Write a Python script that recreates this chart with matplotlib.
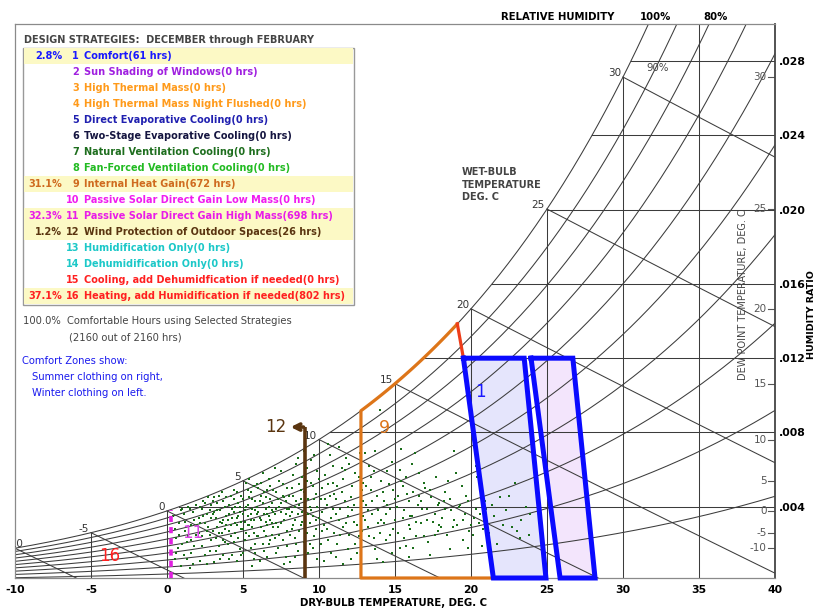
import numpy as np
import matplotlib
matplotlib.use('Agg')
import matplotlib.pyplot as plt
from matplotlib.patches import Polygon, Rectangle

plt.rcParams['font.family'] = ['DejaVu Sans']

# ---- data -------------------------------------------------------------
strategy_num = list(range(1, 17))
strategy_name = ['Comfort', 'Sun Shading of Windows', 'High Thermal Mass',
                 'High Thermal Mass Night Flushed', 'Direct Evaporative Cooling',
                 'Two-Stage Evaporative Cooling', 'Natural Ventilation Cooling',
                 'Fan-Forced Ventilation Cooling', 'Internal Heat Gain',
                 'Passive Solar Direct Gain Low Mass', 'Passive Solar Direct Gain High Mass',
                 'Wind Protection of Outdoor Spaces', 'Humidification Only',
                 'Dehumidification Only', 'Cooling, add Dehumidfication if needed',
                 'Heating, add Humidification if needed']
strategy_hrs = [61, 0, 0, 0, 0, 0, 0, 0, 672, 0, 698, 26, 0, 0, 0, 802]
strategy_pct = ['2.8%', '', '', '', '', '', '', '', '31.1%', '', '32.3%', '1.2%', '', '', '', '37.1%']
strategy_col = ['#1a1aff', '#a020e0', '#ff9a1a', '#ff9a1a', '#2020b0', '#151540', '#1e6e1e',
                '#22bb22', '#cf6b1f', '#f01cf0', '#e81ce8', '#5a3510', '#1cc8c8', '#1cc8c8',
                '#ff2020', '#ff2020']

db_ticks = [-10, -5, 0, 5, 10, 15, 20, 25, 30, 35, 40]
hr_ticks = [0.004, 0.008, 0.012, 0.016, 0.020, 0.024, 0.028]
hr_labels = ['.004', '.008', '.012', '.016', '.020', '.024', '.028']
rh_levels = [1.0, 0.9, 0.8, 0.7, 0.6, 0.5, 0.4, 0.3, 0.2, 0.1]
wb_levels = [-10, -5, 0, 5, 10, 15, 20, 25, 30]
dp_levels = [-10, -5, 0, 5, 10, 15, 20, 25, 30]

# comfort zones (dry bulb C, humidity ratio kg/kg)
winter_t = [19.5, 23.5, 24.93, 21.47]
summer_t = [23.95, 26.7, 28.16, 25.86]
zone_top_w = 0.012
ihg_left_t = 12.76     # strategy 9 left edge
ihg_top_t = 19.1
wind_t, wind_w = 9.08, 0.00829   # strategy 12
solar_t = 0.26                   # strategy 11

# hourly weather points: (dry bulb C, humidity ratio g/kg)
hours = [
    (0.5, 1.2), (0.6, 2.3), (0.8, 3.1), (0.9, 3.8), (0.7, 1.8), (0.5, 2.8), (0.9, 0.8),
    (1.1, 3.6), (1.3, 2.1), (1.4, 4.0), (1.6, 1.5), (1.8, 3.3), (1.2, 2.7), (1.7, 0.9),
    (1.9, 2.5), (1.5, 3.9), (1.3, 1.2), (1.9, 4.1), (1.6, 3.0),
    (0.4, 3.5), (0.6, 1.5), (0.8, 2.5), (1.0, 2.0), (1.1, 1.4), (1.2, 3.2), (1.4, 2.4),
    (1.5, 0.7), (1.7, 3.7), (1.8, 1.9), (1.0, 3.9), (1.6, 2.2),
    (2.1, 3.4), (2.3, 1.9), (2.4, 4.3), (2.6, 2.7), (2.8, 3.8), (2.2, 1.1), (2.7, 4.5),
    (2.5, 3.1), (2.9, 2.2), (2.3, 3.9), (2.6, 0.9), (2.8, 1.6), (2.1, 2.6), (2.9, 4.1),
    (2.4, 3.5), (2.7, 2.9),
    (3.1, 3.7), (3.2, 2.3), (3.4, 4.6), (3.5, 3.2), (3.7, 1.4), (3.8, 4.0), (3.3, 2.9),
    (3.9, 3.5), (3.6, 2.6), (3.0, 4.3), (3.4, 1.9), (3.8, 2.1), (3.2, 3.4), (3.6, 4.8),
    (3.9, 3.0), (3.1, 1.0), (3.5, 3.8), (3.7, 3.3),
    (2.0, 3.0), (2.2, 4.0), (2.3, 2.4), (2.5, 1.4), (2.5, 4.2), (2.6, 3.6), (2.8, 2.5),
    (2.9, 3.4), (3.0, 2.7), (3.1, 4.5), (3.2, 1.6), (3.3, 3.8), (3.3, 4.2), (3.4, 2.6),
    (3.5, 1.2), (3.6, 3.1), (3.7, 4.3), (3.8, 2.8), (3.9, 4.5), (3.0, 3.6), (2.2, 3.1),
    (3.7, 2.2),
    (4.1, 3.6), (4.2, 2.4), (4.4, 4.9), (4.5, 3.1), (4.7, 4.2), (4.8, 1.7), (4.3, 3.9),
    (4.9, 2.8), (4.6, 3.4), (4.0, 2.0), (4.4, 4.4), (4.8, 3.7), (4.2, 3.0), (4.6, 1.1),
    (4.9, 4.6), (4.1, 4.1), (4.5, 2.6), (4.7, 3.5), (4.3, 1.4), (4.9, 3.2),
    (5.1, 3.8), (5.2, 2.6), (5.4, 4.5), (5.5, 3.3), (5.7, 5.1), (5.8, 2.0), (5.3, 4.1),
    (5.9, 3.6), (5.6, 2.9), (5.0, 1.5), (5.4, 3.0), (5.8, 4.3), (5.2, 5.3), (5.6, 3.9),
    (5.9, 2.4), (5.1, 3.2), (5.5, 4.8), (5.7, 1.2), (5.3, 3.5), (5.9, 4.0), (5.6, 0.8),
    (4.0, 3.3), (4.1, 2.7), (4.2, 4.6), (4.3, 3.4), (4.4, 2.1), (4.5, 4.0), (4.6, 3.0),
    (4.6, 4.8), (4.7, 2.3), (4.8, 4.0), (4.9, 1.4), (5.0, 3.6), (5.0, 4.4), (5.1, 2.2),
    (5.2, 4.0), (5.3, 3.0), (5.3, 4.9), (5.4, 2.4), (5.5, 3.6), (5.5, 1.8), (5.6, 4.4),
    (5.7, 3.3), (5.7, 2.6), (5.8, 3.8), (5.9, 5.2), (5.0, 2.8), (4.4, 3.7), (5.8, 1.5),
    (4.1, 1.2), (5.4, 5.5),
    (6.1, 3.4), (6.2, 4.6), (6.4, 2.7), (6.5, 3.9), (6.7, 5.5), (6.8, 2.2), (6.3, 4.2),
    (6.9, 3.1), (6.6, 3.6), (6.0, 5.0), (6.4, 1.6), (6.8, 4.4), (6.2, 2.9), (6.6, 4.9),
    (6.9, 3.8), (6.1, 1.1), (6.5, 3.2), (6.7, 4.0), (6.3, 5.8), (6.9, 2.5),
    (7.1, 3.6), (7.2, 4.8), (7.4, 2.5), (7.5, 5.9), (7.7, 3.3), (7.8, 4.3), (7.3, 1.8),
    (7.9, 3.9), (7.6, 5.2), (7.0, 2.9), (7.4, 4.0), (7.8, 1.3), (7.2, 3.1), (7.6, 4.6),
    (7.9, 2.7), (7.1, 6.1), (7.5, 3.7), (7.7, 0.9),
    (6.0, 3.7), (6.0, 2.4), (6.1, 4.3), (6.2, 3.3), (6.3, 2.0), (6.4, 3.6), (6.4, 4.8),
    (6.5, 2.4), (6.5, 4.5), (6.6, 3.0), (6.7, 2.0), (6.7, 3.5), (6.8, 5.1), (6.8, 3.3),
    (6.9, 4.2), (7.0, 3.7), (7.0, 4.9), (7.1, 2.3), (7.2, 3.9), (7.3, 4.4), (7.3, 2.9),
    (7.4, 5.4), (7.5, 3.1), (7.6, 2.2), (7.7, 4.5), (7.8, 3.6), (7.9, 5.0), (7.2, 1.5),
    (6.6, 1.3), (7.5, 4.2), (6.2, 5.3), (7.9, 1.9),
    (8.1, 3.5), (8.2, 5.0), (8.4, 2.3), (8.5, 6.3), (8.7, 4.1), (8.8, 3.0), (8.3, 4.6),
    (8.9, 5.6), (8.6, 1.6), (8.0, 3.9), (8.4, 3.3), (8.8, 4.9), (8.2, 2.8), (8.6, 6.6),
    (8.9, 3.7), (8.1, 1.0), (8.5, 4.3),
    (9.1, 4.2), (9.2, 5.4), (9.4, 3.1), (9.5, 6.5), (9.7, 2.4), (9.8, 4.7), (9.3, 3.6),
    (9.9, 5.9), (9.6, 1.8), (9.0, 7.0), (9.4, 4.0), (9.8, 3.3), (9.2, 2.6), (9.6, 5.1),
    (9.9, 1.2), (9.5, 3.8),
    (8.0, 4.6), (8.1, 2.5), (8.2, 3.7), (8.3, 5.7), (8.3, 3.0), (8.4, 4.0), (8.5, 2.0),
    (8.6, 3.6), (8.7, 5.2), (8.7, 2.7), (8.8, 4.4), (8.9, 3.2), (9.0, 4.8), (9.0, 2.1),
    (9.1, 3.4), (9.2, 6.1), (9.3, 4.4), (9.4, 2.0), (9.5, 5.3), (9.6, 3.5), (9.7, 4.4),
    (9.7, 6.8), (9.8, 2.8), (9.9, 4.0), (8.4, 1.3), (9.3, 1.5),
    (10.1, 4.4), (10.3, 3.0), (10.4, 5.7), (10.6, 2.2), (10.7, 6.8), (10.9, 3.9),
    (10.2, 5.0), (10.8, 1.5), (10.5, 4.1), (10.0, 3.4), (10.6, 7.4), (10.9, 5.3),
    (10.3, 1.1), (10.7, 4.6), (10.2, 2.7),
    (11.1, 3.6), (11.2, 5.1), (11.4, 2.5), (11.5, 6.1), (11.7, 4.3), (11.8, 3.1),
    (11.3, 7.2), (11.9, 1.7), (11.6, 5.5), (11.0, 4.7), (11.4, 3.9), (11.8, 6.6),
    (11.2, 2.0), (11.6, 0.9), (11.9, 4.0),
    (12.1, 4.5), (12.3, 3.2), (12.4, 5.8), (12.6, 2.4), (12.7, 6.9), (12.2, 3.8),
    (12.8, 4.9), (12.5, 1.5), (12.9, 3.5), (12.0, 6.3), (12.4, 2.0), (12.9, 5.3),
    (10.0, 5.5), (10.1, 2.0), (10.2, 3.7), (10.4, 4.4), (10.5, 2.8), (10.6, 5.2),
    (10.8, 3.4), (10.9, 6.2), (11.0, 2.6), (11.1, 4.4), (11.3, 3.3), (11.5, 4.8),
    (11.6, 2.9), (11.7, 6.0), (11.9, 3.5), (12.0, 2.5), (12.2, 5.1), (12.3, 4.1),
    (12.5, 3.0), (12.6, 5.6), (12.8, 2.7), (12.9, 4.3), (11.1, 1.3), (12.1, 1.2),
    (13.1, 4.1), (13.2, 2.9), (13.4, 5.6), (13.5, 3.6), (13.7, 1.7), (13.8, 4.6),
    (13.3, 6.2), (13.9, 3.1), (13.6, 2.3), (13.0, 6.9), (13.4, 4.9), (13.8, 1.2), (13.2, 3.8),
    (14.1, 3.3), (14.2, 4.8), (14.4, 2.2), (14.5, 5.9), (14.7, 3.9), (14.8, 1.5),
    (14.3, 4.3), (14.9, 2.8), (14.6, 5.2), (14.0, 9.2), (14.4, 3.6), (14.8, 6.4), (14.2, 1.0),
    (15.1, 4.0), (15.2, 2.6), (15.4, 5.4), (15.5, 3.4), (15.7, 1.9), (15.8, 4.7),
    (15.3, 6.0), (15.9, 3.0), (15.6, 2.3), (15.0, 4.4), (15.5, 5.1), (15.9, 1.3),
    (16.1, 3.5), (16.3, 6.9), (16.4, 2.4), (16.6, 4.6), (16.7, 3.1), (16.9, 5.3),
    (16.2, 1.8), (16.8, 3.9), (16.5, 4.1), (16.0, 2.8), (16.6, 5.8),
    (17.1, 3.9), (17.2, 2.1), (17.4, 4.5), (17.5, 3.2), (17.7, 5.6), (17.8, 2.7),
    (17.3, 1.4), (17.9, 4.2), (17.6, 3.6), (17.0, 5.0),
    (13.0, 3.3), (13.1, 5.1), (13.3, 2.4), (13.5, 4.3), (13.6, 5.9), (13.9, 3.8),
    (14.0, 2.6), (14.1, 5.4), (14.3, 3.1), (14.5, 4.1), (14.7, 2.5), (14.9, 4.9),
    (15.0, 3.3), (15.2, 4.6), (15.3, 1.8), (15.6, 3.8), (15.7, 5.6), (15.9, 4.3),
    (16.0, 3.5), (16.2, 4.8), (16.4, 3.2), (16.7, 4.3), (16.9, 2.4), (17.1, 3.3),
    (17.3, 4.9), (17.6, 2.5), (17.8, 4.1), (17.9, 3.0), (13.7, 7.0), (15.4, 7.1), (16.1, 6.3),
    (18.1, 3.4), (18.3, 4.8), (18.4, 2.5), (18.6, 1.7), (18.7, 3.8), (18.9, 7.0),
    (18.2, 4.3), (18.8, 2.9), (18.5, 5.4),
    (19.1, 3.0), (19.3, 4.1), (19.5, 2.2), (19.6, 3.6), (19.8, 1.8), (19.4, 5.1),
    (19.9, 2.7), (19.7, 4.6),
    (20.1, 2.5), (20.3, 3.9), (20.5, 3.1), (20.7, 1.9), (20.9, 4.3), (20.4, 5.6),
    (20.8, 2.8), (20.2, 3.4),
    (18.0, 2.9), (18.3, 3.9), (18.6, 4.4), (18.9, 3.3), (19.2, 4.0), (19.5, 3.3),
    (19.8, 4.3), (20.0, 3.0), (20.6, 3.6), (19.0, 5.8), (20.3, 6.2),
    (21.2, 2.6), (21.5, 3.5), (21.9, 4.5), (21.7, 2.0), (21.0, 3.9), (21.4, 4.1),
    (22.3, 3.8), (22.7, 2.9), (23.0, 2.7), (23.3, 3.3), (23.6, 4.0), (22.5, 4.6),
    (23.8, 2.5), (22.9, 5.3), (22.1, 3.0), (23.2, 2.3), (23.9, 3.6),
]

# ---- psychrometrics ---------------------------------------------------
P = 101.325
W_BOT, W_TOP = 0.00016, 0.030


def p_sat(t):
    return 0.61094 * np.exp(17.625 * t / (t + 243.04))


def w_of(t, rh):
    pw = rh * p_sat(t)
    return 0.622 * pw / (P - pw)


def t_sat_of(w):
    pw = w * P / (0.622 + w)
    a = np.log(pw / 0.61094)
    return 243.04 * a / (17.625 - a)


def w_wetbulb(t, twb):
    ws = w_of(twb, 1.0)
    return ((2501 - 2.326 * twb) * ws - 1.006 * (t - twb)) / (2501 + 1.86 * t - 4.186 * twb)


W_FIG, H_FIG = 817, 608


def fx(px):
    return px / W_FIG


def fy(py):
    return 1 - py / H_FIG


fig = plt.figure(figsize=(8.17, 6.08), dpi=100)
ax = fig.add_axes([fx(15), 30 / H_FIG, 760 / W_FIG, 554 / H_FIG])
ax.set_xlim(-10, 40)
ax.set_ylim(W_BOT, W_TOP)

grid_c = '#3c3c3c'
grid_lw = 0.75

# relative humidity curves
tt = np.linspace(-10, 40, 500)
for rh in rh_levels:
    ax.plot(tt, w_of(tt, rh), color=grid_c, lw=grid_lw, zorder=2)

# dry bulb verticals
for tdb in db_ticks[1:-1]:
    ax.plot([tdb, tdb], [W_BOT, min(w_of(tdb, 1.0), W_TOP)], color=grid_c, lw=grid_lw, zorder=2)

# humidity ratio horizontals
for w in hr_ticks:
    ax.plot([t_sat_of(w), 40], [w, w], color=grid_c, lw=grid_lw, zorder=2)

# wet bulb lines + labels
for twb in wb_levels:
    t = np.linspace(twb, 40, 200)
    ax.plot(t, w_wetbulb(t, twb), color=grid_c, lw=grid_lw, zorder=2)
    ax.annotate(str(twb), xy=(twb, w_of(twb, 1.0)), xytext=(-2 if twb > -10 else 8, 4),
                textcoords='offset pixels', ha='right', va='center', fontsize=7.5,
                color='#333333', clip_on=True, annotation_clip=False)

# dew point ticks on right
for td in dp_levels:
    wd = w_of(td, 1.0)
    ax.plot([39.55, 40], [wd, wd], color='#555555', lw=0.8, zorder=2)
    ax.text(39.45, wd, str(td), ha='right', va='center', fontsize=7.5, color='#555555', zorder=3)

# comfort zones
for zt, fc in [(winter_t, '#d4d4fa'), (summer_t, '#ecd4fa')]:
    pts = [(zt[0], zone_top_w), (zt[1], zone_top_w), (zt[2], W_BOT), (zt[3], W_BOT)]
    ax.add_patch(Polygon(pts, closed=True, facecolor=fc, edgecolor='none', alpha=0.6, zorder=1))
    xs = [p[0] for p in pts] + [pts[0][0]]
    ys = [p[1] for p in pts] + [pts[0][1]]
    ax.plot(xs, ys, color='#0a0aff', lw=3.6, zorder=5, clip_on=False, solid_joinstyle='miter')

# hourly data
ht = [h[0] for h in hours]
hw = [h[1] / 1000 for h in hours]
ax.scatter(ht, hw, s=4.6, marker='s', color='#1a6e1a', linewidths=0, zorder=3)

# strategy 9 internal heat gain
orange = '#dd7519'
ts = np.linspace(ihg_left_t, ihg_top_t, 40)
ax.plot([winter_t[3], ihg_left_t] + list(ts), [W_BOT, W_BOT] + list(w_of(ts, 1.0)),
        color=orange, lw=2.3, zorder=4, clip_on=False)
ax.plot([ihg_top_t, winter_t[0]], [w_of(ihg_top_t, 1.0), zone_top_w], color='#ee3d1a', lw=2.3, zorder=4)

# strategy 12 wind protection
brown = '#5a3510'
ax.plot([wind_t, wind_t], [W_BOT, wind_w], color=brown, lw=2.6, zorder=4, clip_on=False,
        solid_capstyle='butt')
ax.annotate('', xy=(7.95, wind_w), xytext=(wind_t + 0.08, wind_w),
            arrowprops=dict(arrowstyle='->', color=brown, lw=2.6, mutation_scale=11), zorder=4)

# strategy 11 passive solar
ax.plot([solar_t, solar_t], [W_BOT, w_of(solar_t, 1.0)], color='#e020e0', lw=2.6,
        dashes=(1.7, 1.4), zorder=4, clip_on=False)

# zone numbers
ax.text(7.85, wind_w, '12', color=brown, fontsize=12, ha='right', va='center', zorder=6)
ax.text(1.71, 0.00258, '11', color='#da44e6', fontsize=12, ha='center', va='center', zorder=6)
ax.text(-3.75, 0.00134, '16', color='#ff2020', fontsize=12, ha='center', va='center', zorder=6)
ax.text(14.28, 0.00824, '9', color=orange, fontsize=12.5, ha='center', va='center', zorder=6)
ax.text(20.59, 0.01018, '1', color='#1a1aff', fontsize=12, ha='center', va='center', zorder=6)

# axes styling
ax.set_xticks(db_ticks)
ax.set_xticklabels([str(v) for v in db_ticks], fontweight='bold', fontsize=7.8)
ax.set_yticks(hr_ticks)
ax.set_yticklabels(hr_labels, fontweight='bold', fontsize=7.8)
ax.tick_params(axis='x', length=0, pad=5)
ax.tick_params(axis='y', left=False, right=False, labelleft=False, labelright=True, length=0, pad=3)
for side in ['left', 'top', 'bottom']:
    ax.spines[side].set_color('#8a8a8a')
    ax.spines[side].set_linewidth(0.9)
ax.spines['right'].set_color('#444444')
ax.spines['right'].set_linewidth(1.3)

fig.text(fx(393), fy(603), 'DRY-BULB TEMPERATURE, DEG. C', ha='center', va='center',
         fontsize=7.3, fontweight='bold')
fig.text(fx(812), fy(315), 'HUMIDITY RATIO', ha='center', va='center', rotation=90,
         fontsize=6.8, fontweight='bold')
fig.text(fx(743), fy(295), 'DEW POINT TEMPERATURE, DEG. C', ha='center', va='center', rotation=90,
         fontsize=7, color='#444444')
fig.text(fx(501), fy(17), 'RELATIVE HUMIDITY', ha='left', va='center', fontsize=7.3, fontweight='bold')
fig.text(fx(640), fy(17), '100%', ha='left', va='center', fontsize=7.3, fontweight='bold')
fig.text(fx(703), fy(17), '80%', ha='left', va='center', fontsize=7.3, fontweight='bold')
fig.text(fx(658), fy(68), '90%', ha='center', va='center', fontsize=7.3, color='#444444')
for i, line in enumerate(['WET-BULB', 'TEMPERATURE', 'DEG. C']):
    fig.text(fx(462), fy(172 + 12.5 * i), line, ha='left', va='center', fontsize=7,
             fontweight='bold', color='#444444')

# ---- legend -----------------------------------------------------------
fig.text(fx(24), fy(40), 'DESIGN STRATEGIES:  DECEMBER through FEBRUARY', ha='left', va='center',
         fontsize=7, fontweight='bold', color='#444444')
fig.patches.append(Rectangle((fx(23), fy(305)), fx(354) - fx(23), fy(48) - fy(305),
                             transform=fig.transFigure, facecolor='white', edgecolor='#999999',
                             lw=1.0, zorder=1))
for i in range(16):
    yc = 56 + 16 * i
    if strategy_hrs[i] > 0:
        fig.patches.append(Rectangle((fx(24), fy(yc + 8)), fx(353) - fx(24), 16 / H_FIG,
                                     transform=fig.transFigure, facecolor='#fcf9c5',
                                     edgecolor='none', zorder=1.5))
    c = strategy_col[i]
    fig.text(fx(62), fy(yc), strategy_pct[i], ha='right', va='center', fontsize=7,
             fontweight='bold', color=c)
    fig.text(fx(79), fy(yc), str(strategy_num[i]), ha='right', va='center', fontsize=7,
             fontweight='bold', color=c)
    fig.text(fx(84), fy(yc), f'{strategy_name[i]}({strategy_hrs[i]} hrs)', ha='left',
             va='center', fontsize=7, fontweight='bold', color=c)

fig.text(fx(23), fy(321), '100.0%  Comfortable Hours using Selected Strategies', ha='left',
         va='center', fontsize=7.2, color='#444444')
fig.text(fx(69), fy(337), '(2160 out of 2160 hrs)', ha='left', va='center', fontsize=7.2,
         color='#444444')
fig.text(fx(22), fy(361), 'Comfort Zones show:', ha='left', va='center', fontsize=7.2, color='#1a1aee')
fig.text(fx(32), fy(377), 'Summer clothing on right,', ha='left', va='center', fontsize=7.2, color='#1a1aee')
fig.text(fx(32), fy(393), 'Winter clothing on left.', ha='left', va='center', fontsize=7.2, color='#1a1aee')

fig.savefig('out.png', dpi=100)
